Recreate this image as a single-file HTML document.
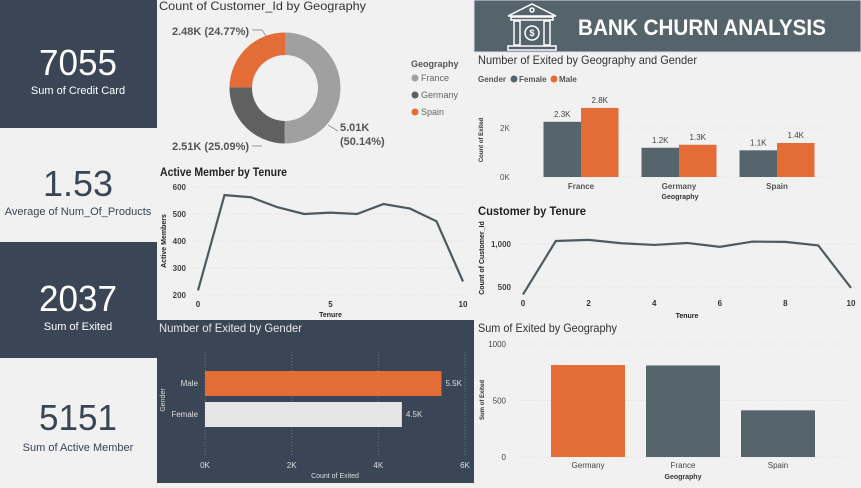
<!DOCTYPE html>
<html><head><meta charset="utf-8"><style>
body{margin:0;width:861px;height:483px;overflow:hidden;background:#f1f1f1;font-family:"Liberation Sans",sans-serif;}
svg text{font-family:"Liberation Sans",sans-serif;}
</style></head><body>
<svg id="s" width="861" height="483" viewBox="0 0 861 483" xmlns="http://www.w3.org/2000/svg">
<rect x="0" y="0" width="861" height="483" fill="#f1f1f1"/>
<g>
<rect x="0" y="0" width="157" height="128" fill="#3a4555"/>
<text x="78" y="75" text-anchor="middle" font-size="36" fill="#fff" textLength="78" lengthAdjust="spacingAndGlyphs">7055</text>
<text x="78" y="94" text-anchor="middle" font-size="11" fill="#fff">Sum of Credit Card</text></g>
<g>
<text x="78" y="196" text-anchor="middle" font-size="36" fill="#3a4555" textLength="70" lengthAdjust="spacingAndGlyphs">1.53</text>
<text x="78" y="215" text-anchor="middle" font-size="11" fill="#3a4555">Average of Num_Of_Products</text></g>
<g>
<rect x="0" y="242" width="157" height="116" fill="#3a4555"/>
<text x="78" y="311" text-anchor="middle" font-size="36" fill="#fff" textLength="78" lengthAdjust="spacingAndGlyphs">2037</text>
<text x="78" y="330" text-anchor="middle" font-size="11" fill="#fff">Sum of Exited</text></g>
<g>
<text x="78" y="430" text-anchor="middle" font-size="36" fill="#3a4555" textLength="78" lengthAdjust="spacingAndGlyphs">5151</text>
<text x="78" y="451" text-anchor="middle" font-size="11" fill="#3a4555">Sum of Active Member</text></g>
<g>
<rect x="474" y="0" width="387" height="52" fill="#55636b" stroke="#dde" stroke-width="1"/>
<g fill="none" stroke="#fff" stroke-width="1.5">
<path d="M508 16 L532 4 L556 16 Z"/><circle cx="532" cy="10" r="2"/>
<rect x="511" y="17" width="42" height="3"/>
<rect x="514" y="21" width="6" height="24"/><rect x="544" y="21" width="6" height="24"/>
<circle cx="532" cy="33" r="7"/><rect x="508" y="46" width="48" height="4"/></g>
<text x="532" y="36" text-anchor="middle" font-size="9" fill="#fff" font-weight="bold">$</text>
<text x="578" y="35" font-size="22" font-weight="bold" fill="#fff" textLength="248" lengthAdjust="spacingAndGlyphs">BANK CHURN ANALYSIS</text>
</g>
<text x="159" y="10" font-size="12" fill="#333" textLength="207" lengthAdjust="spacingAndGlyphs">Count of Customer_Id by Geography</text>
<g id="donut"></g>
<g font-size="9">
<text x="411" y="67" font-weight="bold" fill="#555">Geography</text>
<circle cx="415" cy="78" r="3.5" fill="#a0a0a0"/><text x="421" y="81" fill="#666">France</text>
<circle cx="415" cy="95" r="3.5" fill="#606060"/><text x="421" y="98" fill="#666">Germany</text>
<circle cx="415" cy="112" r="3.5" fill="#e46c37"/><text x="421" y="115" fill="#666">Spain</text>
</g>
<g font-size="11" font-weight="bold" fill="#555">
<text x="172" y="35">2.48K (24.77%)</text>
<text x="172" y="150">2.51K (25.09%)</text>
<text x="340" y="131">5.01K</text><text x="340" y="145">(50.14%)</text>
<path d="M252 30 L262 30 L266 36 M262 146 L252 146 M328 125 L338 131" stroke="#999" fill="none"/>
</g>
<text x="160" y="176" font-size="12" font-weight="bold" fill="#222" textLength="127" lengthAdjust="spacingAndGlyphs">Active Member by Tenure</text>
<g id="active"></g>
<text x="478" y="64" font-size="12" fill="#333" textLength="219" lengthAdjust="spacingAndGlyphs">Number of Exited by Geography and Gender</text>
<g font-size="8" font-weight="bold" fill="#555">
<text x="478" y="82">Gender</text>
<circle cx="514" cy="79" r="3.5" fill="#56646c"/><text x="519" y="82">Female</text>
<circle cx="554" cy="79" r="3.5" fill="#e46c37"/><text x="559" y="82">Male</text></g>
<g id="geogender"></g>
<text x="478" y="215" font-size="12" font-weight="bold" fill="#222" textLength="108" lengthAdjust="spacingAndGlyphs">Customer by Tenure</text>
<g id="cust"></g>
<rect x="157" y="320" width="317" height="163" fill="#3a4555"/>
<text x="159" y="332" font-size="12" fill="#e8e8e8" textLength="143" lengthAdjust="spacingAndGlyphs">Number of Exited by Gender</text>
<g id="gender"></g>
<text x="478" y="332" font-size="12" fill="#333" textLength="139" lengthAdjust="spacingAndGlyphs">Sum of Exited by Geography</text>
<g id="geo"></g>
</svg>
<script>
const NS="http://www.w3.org/2000/svg";
function mk(p,t,a,txt){const e=document.createElementNS(NS,t);for(const k in a)e.setAttribute(k,a[k]);if(txt!==undefined)e.textContent=txt;p.appendChild(e);return e;}

const donutCats=["France","Germany","Spain"];
const donutVals=[5014,2509,2477];
const donutColors=["#a0a0a0","#606060","#e46c37"];
const activeX=[0,1,2,3,4,5,6,7,8,9,10];
const activeVals=[217,570,562,525,500,505,500,537,520,473,250];
const activeTicks=[200,300,400,500,600];
const ggCats=["France","Germany","Spain"];
const ggFemale=[2253,1193,1089];
const ggMale=[2820,1316,1388];
const ggFemaleLbl=["2.3K","1.2K","1.1K"];
const ggMaleLbl=["2.8K","1.3K","1.4K"];
const custX=[0,1,2,3,4,5,6,7,8,9,10];
const custVals=[413,1035,1048,1009,989,1012,967,1028,1025,984,490];
const custTicks=[500,1000];
const genderCats=["Male","Female"];
const genderVals=[5457,4543];
const genderLbl=["5.5K","4.5K"];
const genderTicks=[0,2000,4000,6000];
const geoCats=["Germany","France","Spain"];
const geoVals=[814,810,413];
const geoTicks=[0,500,1000];

(function(){const g=document.getElementById('donut');const cx=285,cy=88,R=55.5,r=33;
const tot=donutVals.reduce((a,b)=>a+b,0);let a0=-Math.PI/2;
donutVals.forEach((v,i)=>{const a1=a0+v/tot*2*Math.PI;const lg=(a1-a0)>Math.PI?1:0;
const p=(rad,a)=>[cx+rad*Math.cos(a),cy+rad*Math.sin(a)];
const [x0,y0]=p(R,a0),[x1,y1]=p(R,a1),[x2,y2]=p(r,a1),[x3,y3]=p(r,a0);
const e=mk(g,'path',{d:`M${x0} ${y0}A${R} ${R} 0 ${lg} 1 ${x1} ${y1}L${x2} ${y2}A${r} ${r} 0 ${lg} 0 ${x3} ${y3}Z`,fill:donutColors[i]});

a0=a1;});})();

function lineChart(id,xs,vals,ticks,x0,x1,yv0,yv1,py0,py1,xticks,fmt,name,ylab,xlabY){
const g=document.getElementById(id);
const X=v=>x0+(v-xs[0])/(xs[xs.length-1]-xs[0])*(x1-x0);
const Y=v=>py0+(v-yv0)/(yv1-yv0)*(py1-py0);
ticks.forEach(t=>{mk(g,'line',{x1:x0-5,x2:x1+5,y1:Y(t),y2:Y(t),stroke:'#ddd','stroke-dasharray':'1 2'});
const e=mk(g,'text',{x:x0-12,y:Y(t)+3,'text-anchor':'end','font-size':8,'font-weight':'bold',fill:'#444'},fmt(t));
});
xticks.forEach(t=>{const e=mk(g,'text',{x:X(t),y:xlabY,'text-anchor':'middle','font-size':8,'font-weight':'bold',fill:'#333'},t);
});
const pl=mk(g,'polyline',{points:xs.map((x,i)=>X(x)+','+Y(vals[i])).join(' '),fill:'none',stroke:'#4e5a60','stroke-width':2.2});

return {X,Y,g};}

(function(){const c=lineChart('active',activeX,activeVals,activeTicks,198,463,200,600,295,187,[0,5,10],t=>t,'active-member-line','Active Members',307);
let e=mk(c.g,'text',{x:(198+463)/2,y:317,'text-anchor':'middle','font-size':7,'font-weight':'bold',fill:'#222'},'Tenure');

e=mk(c.g,'text',{transform:'translate(166,241) rotate(-90)','text-anchor':'middle','font-size':7,'font-weight':'bold',fill:'#222'},'Active Members');
})();

(function(){const c=lineChart('cust',custX,custVals,custTicks,523,851,500,1000,287,244,[0,2,4,6,8,10],t=>t.toLocaleString('en-US'),'customer-tenure-line','',306);
let e=mk(c.g,'text',{x:687,y:318,'text-anchor':'middle','font-size':7,'font-weight':'bold',fill:'#222'},'Tenure');

e=mk(c.g,'text',{transform:'translate(484,258) rotate(-90)','text-anchor':'middle','font-size':7,'font-weight':'bold',fill:'#222'},'Count of Customer_Id');
})();

(function(){const g=document.getElementById('geogender');const Y=v=>177-v*49/2000;const cx=i=>581+i*98;const bw=37.5;
[0,2000].forEach(t=>{mk(g,'line',{x1:535,x2:835,y1:Y(t),y2:Y(t),stroke:'#ddd','stroke-dasharray':'1 2'});
const e=mk(g,'text',{x:500,y:Y(t)+3,'font-size':8,fill:'#555'},(t/1000)+'K');});
ggCats.forEach((c,i)=>{
let b=mk(g,'rect',{x:cx(i)-bw,y:Y(ggFemale[i]),width:bw,height:177-Y(ggFemale[i]),fill:'#56646c'});

b=mk(g,'rect',{x:cx(i),y:Y(ggMale[i]),width:bw,height:177-Y(ggMale[i]),fill:'#e46c37'});

let t=mk(g,'text',{x:cx(i)-bw/2,y:Y(ggFemale[i])-5,'text-anchor':'middle','font-size':8,fill:'#444'},ggFemaleLbl[i]);

t=mk(g,'text',{x:cx(i)+bw/2,y:Y(ggMale[i])-5,'text-anchor':'middle','font-size':8,fill:'#444'},ggMaleLbl[i]);

t=mk(g,'text',{x:cx(i),y:189,'text-anchor':'middle','font-size':8,'font-weight':'bold',fill:'#555'},c);
});
let e=mk(g,'text',{x:680,y:199,'text-anchor':'middle','font-size':7,'font-weight':'bold',fill:'#333'},'Geography');

e=mk(g,'text',{transform:'translate(483,140) rotate(-90)','text-anchor':'middle','font-size':6,'font-weight':'bold',fill:'#333'},'Count of Exited');
})();

(function(){const g=document.getElementById('gender');const X=v=>205+v*260/6000;const rows=[371,402];const bh=25;
genderTicks.forEach(t=>{mk(g,'line',{x1:X(t),x2:X(t),y1:352,y2:455,stroke:'#6a7585','stroke-dasharray':'1 2'});
const e=mk(g,'text',{x:X(t),y:468,'text-anchor':'middle','font-size':8,fill:'#ddd'},(t/1000)+'K');});
genderCats.forEach((c,i)=>{const b=mk(g,'rect',{x:205,y:rows[i],width:X(genderVals[i])-205,height:bh,fill:i==0?'#e46c37':'#e6e6e6'});

let t=mk(g,'text',{x:X(genderVals[i])+4,y:rows[i]+15,'font-size':8,fill:'#ddd'},genderLbl[i]);
t=mk(g,'text',{x:198,y:rows[i]+15,'text-anchor':'end','font-size':8,fill:'#ddd'},c);});
let e=mk(g,'text',{x:335,y:478,'text-anchor':'middle','font-size':7,fill:'#ddd'},'Count of Exited');
e=mk(g,'text',{transform:'translate(165,400) rotate(-90)','text-anchor':'middle','font-size':7,fill:'#ddd'},'Gender');})();

(function(){const g=document.getElementById('geo');const Y=v=>457-v*113/1000;const cx=i=>588+i*95;const bw=74;
geoTicks.forEach(t=>{mk(g,'line',{x1:520,x2:845,y1:Y(t),y2:Y(t),stroke:'#ddd','stroke-dasharray':'1 2'});
const e=mk(g,'text',{x:506,y:Y(t)+3,'text-anchor':'end','font-size':8,fill:'#444'},t);});
geoCats.forEach((c,i)=>{const b=mk(g,'rect',{x:cx(i)-bw/2,y:Y(geoVals[i]),width:bw,height:457-Y(geoVals[i]),fill:i==0?'#e46c37':'#56646c'});

const t=mk(g,'text',{x:cx(i),y:468,'text-anchor':'middle','font-size':8,fill:'#444'},c);});
let e=mk(g,'text',{x:683,y:479,'text-anchor':'middle','font-size':7,'font-weight':'bold',fill:'#333'},'Geography');
e=mk(g,'text',{transform:'translate(484,400) rotate(-90)','text-anchor':'middle','font-size':6,'font-weight':'bold',fill:'#333'},'Sum of Exited');})();
</script>
</body></html>
